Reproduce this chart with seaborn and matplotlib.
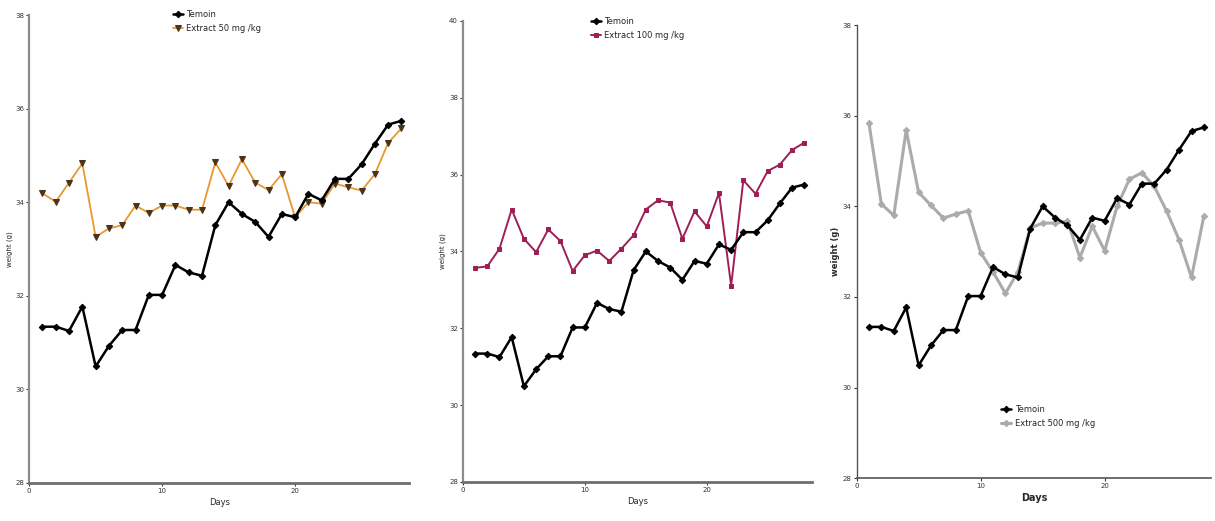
import matplotlib
matplotlib.use("Agg")
import matplotlib.pyplot as plt
import seaborn as sns

# ------------------------------------------------------------------
# Daten
# ------------------------------------------------------------------
days = list(range(1, 29))

temoin = [31.34, 31.34, 31.25, 31.77, 30.49, 30.93, 31.27, 31.27, 32.02, 32.02,
          32.66, 32.50, 32.43, 33.51, 34.00, 33.75, 33.58, 33.26, 33.75, 33.68,
          34.18, 34.04, 34.50, 34.50, 34.81, 35.25, 35.66, 35.74]

extract_50 = [34.19, 34.01, 34.42, 34.83, 33.26, 33.44, 33.51, 33.93, 33.77, 33.93,
              33.93, 33.84, 33.84, 34.85, 34.35, 34.92, 34.42, 34.26, 34.60, 33.68,
              34.00, 33.97, 34.40, 34.32, 34.25, 34.60, 35.27, 35.58]

extract_100 = [33.57, 33.61, 34.07, 35.09, 34.33, 33.98, 34.57, 34.27, 33.49, 33.90,
               34.02, 33.75, 34.07, 34.42, 35.09, 35.33, 35.27, 34.33, 35.04, 34.65,
               35.52, 33.11, 35.85, 35.50, 36.09, 36.26, 36.64, 36.83]

extract_500 = [35.83, 34.05, 33.80, 35.68, 34.31, 34.02, 33.74, 33.83, 33.90, 32.98,
               32.55, 32.08, 32.55, 33.52, 33.63, 33.63, 33.67, 32.87, 33.56, 33.02,
               34.00, 34.60, 34.74, 34.44, 33.89, 33.26, 32.43, 33.79]

labels = ['Temoin', 'Extract 50 mg /kg', 'Extract 100 mg /kg', 'Extract 500 mg /kg']
y_ticks_a = [28, 30, 32, 34, 36, 38]
y_ticks_b = [28, 30, 32, 34, 36, 38, 40]
x_ticks = [0, 10, 20]

# ------------------------------------------------------------------
# Layout
# ------------------------------------------------------------------
sns.set_theme(style="white")
plt.rcParams['font.family'] = ['DejaVu Sans']

fig = plt.figure(figsize=(12.15, 5.21), dpi=100)
ax1 = fig.add_axes([0.024, 0.073, 0.313, 0.898])
ax2 = fig.add_axes([0.381, 0.075, 0.287, 0.885])
ax3 = fig.add_axes([0.705, 0.082, 0.292, 0.870])

panels = [
    (ax1, extract_50, labels[1], '#E8982E', 'v', '#4a3318', y_ticks_a, 1.3, 4.5, (0.136, 0.995)),
    (ax2, extract_100, labels[2], '#9E1F55', 's', '#9E1F55', y_ticks_b, 1.4, 3.2, (0.480, 0.982)),
    (ax3, extract_500, labels[3], '#ABABAB', 'D', '#ABABAB', y_ticks_a, 2.2, 3.2, (0.818, 0.238)),
]

for ax, values, lab, col, mk, mface, yt, lw, ms, leg_pos in panels:
    sns.lineplot(x=days, y=temoin, ax=ax, color='black', marker='D', markersize=3.3,
                 markeredgecolor='black', linewidth=1.8, label=labels[0], zorder=3)
    sns.lineplot(x=days, y=values, ax=ax, color=col, marker=mk, markersize=ms,
                 markerfacecolor=mface, markeredgecolor=mface, linewidth=lw, label=lab,
                 zorder=2)
    ax.set_xlim(0, 28.6)
    ax.set_ylim(yt[0], yt[-1])
    ax.set_xticks(x_ticks)
    ax.set_yticks(yt)
    ax.tick_params(axis='both', which='both', length=2.5, width=0.8, labelsize=5,
                   pad=1, direction='out', left=True, bottom=True, colors='#333333')
    for s in ['top', 'right']:
        ax.spines[s].set_visible(False)
    ax.spines['left'].set_color('#8c8c8c')
    ax.spines['left'].set_linewidth(1.6)
    ax.spines['bottom'].set_color('#6e6e6e')
    ax.spines['bottom'].set_linewidth(2.0)
    ax.set_xlabel('Days', fontsize=6, labelpad=3)
    ax.set_ylabel('weight (g)', fontsize=5, labelpad=2)
    ax.legend_.remove()
    h, l = ax.get_legend_handles_labels()
    fig.legend(h, l, loc='upper left', bbox_to_anchor=leg_pos, frameon=False,
               fontsize=6, handlelength=1.2, handletextpad=0.4, labelspacing=0.6)

ax3.spines['left'].set_color('#555555')
ax3.spines['left'].set_linewidth(1.0)
ax3.spines['bottom'].set_color('#555555')
ax3.spines['bottom'].set_linewidth(1.2)
ax3.set_xlabel('Days', fontsize=7, fontweight='bold', labelpad=3)
ax3.set_ylabel('weight (g)', fontsize=6, fontweight='bold', labelpad=2)

plt.savefig('out.png', dpi=100)
plt.close()
